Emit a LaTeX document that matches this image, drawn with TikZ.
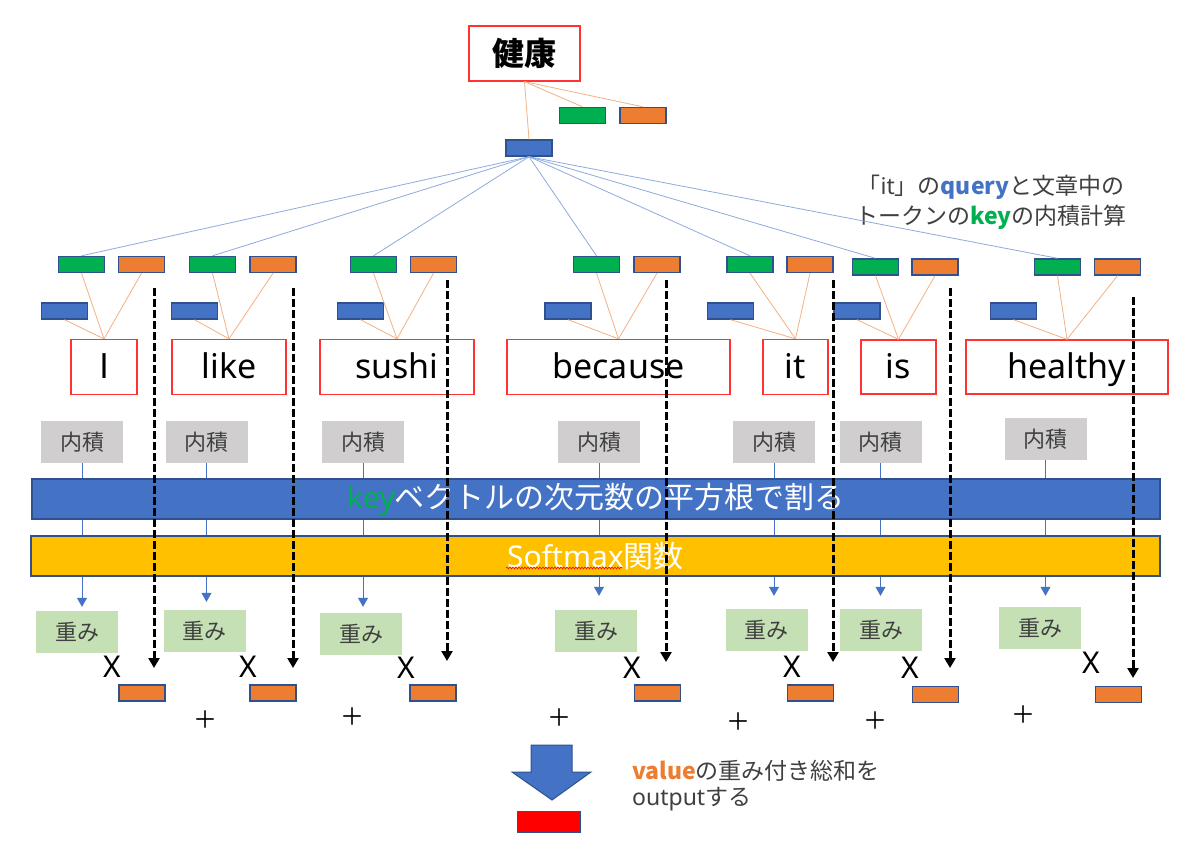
\documentclass[tikz,border=0pt]{standalone}
\usepackage{fontspec}
\setmainfont{Noto Sans}
\newfontfamily\jp{Noto Sans CJK JP}
\usetikzlibrary{arrows.meta,decorations.pathmorphing}
\definecolor{qblue}{HTML}{4472C4}
\definecolor{bord}{HTML}{2F528F}
\definecolor{kgreen}{HTML}{00B050}
\definecolor{vorange}{HTML}{ED7D31}
\definecolor{lorange}{HTML}{F4B183}
\definecolor{lblue}{HTML}{8FAADC}
\definecolor{gbox}{HTML}{D0CECE}
\definecolor{wbox}{HTML}{C5E0B4}
\definecolor{ybar}{HTML}{FFC000}
\definecolor{tgray}{HTML}{404040}
\definecolor{wred}{HTML}{FF3333}
\newcommand{\fsz}[2]{\fontsize{#1}{#2}\selectfont}
\begin{document}
\begin{tikzpicture}[x=1pt,y=-1pt,
  vec/.style={draw=bord, line width=1.4pt, minimum width=46pt, minimum height=16pt, inner sep=0pt},
  kvec/.style={vec, fill=kgreen},
  vvec/.style={vec, fill=vorange},
  qvec/.style={vec, fill=qblue},
  word/.style={draw=wred, line width=1.3pt, fill=white, minimum height=55pt, inner sep=0pt, text height=26pt, text depth=4pt, font=\fsz{34}{34}},
  dotbox/.style={fill=gbox, minimum width=82pt, minimum height=42pt, inner sep=0pt, font=\jp\fsz{22}{22}, text=tgray},
  wtbox/.style={fill=wbox, minimum width=82pt, minimum height=42pt, inner sep=0pt, font=\jp\fsz{22}{22}, text=tgray},
  oline/.style={draw=lorange, line width=0.8pt},
  bline/.style={draw=lblue, line width=0.8pt},
  flow/.style={draw=qblue, line width=0.6pt, -{Triangle[width=10pt,length=9pt]}},
  dasharrow/.style={draw=black, line width=3pt, dash pattern=on 8pt off 3pt, -{Triangle[width=11pt,length=10pt]}},
  xlab/.style={font=\fsz{30}{30}, inner sep=0pt},
  plab/.style={font=\jp\fsz{24}{24}, inner sep=0pt}
]
\useasboundingbox[fill=white] (0,0) rectangle (1200,848);

% top token
\node[draw=wred, line width=1.3pt, fill=white, minimum width=111pt, minimum height=55pt, inner sep=0pt, font=\jp\bfseries\fsz{32}{32}] (top) at (524.5,53.5) {健康};
\node[kvec] (tg) at (582.5,115.5) {};
\node[vvec] (to) at (643,115.5) {};
\node[qvec] (tq) at (529,148) {};
\draw[oline] (top.south) -- (tq.north);
\draw[oline] (top.south) -- (tg.north);
\draw[oline] (top.south) -- (to.north);

% annotation
\node[align=center, text=tgray, font=\fsz{23}{30}, inner sep=0pt] (note) at (991,202)
  {{\jp 「}it{\jp 」の}{\jp\bfseries\color{qblue}query}{\jp と文章中の}\\{\jp トークンの}{\jp\bfseries\color{kgreen}key}{\jp の内積計算}};

% key / value / query vectors
\foreach \i/\gx/\ox/\qx/\ky in {1/81.5/141.5/64.5/264.5, 2/212.5/273/194.5/264.5, 3/373.5/433.5/360.5/264.5,
  4/596.5/657/568/264.5, 5/750/810/730.5/264.5, 6/875.5/935/857/267, 7/1057.5/1117.5/1013.5/267}{
  \node[kvec] (g\i) at (\gx,\ky) {};
  \node[vvec] (o\i) at (\ox,\ky) {};
  \node[qvec] (q\i) at (\qx,311) {};
}

% words
\node[word, minimum width=66pt, font=\jp\fsz{34}{34}] (w1) at (104,367) {I};
\node[word, minimum width=114pt] (w2) at (229,367) {like};
\node[word, minimum width=154pt] (w3) at (397,367) {sushi};
\node[word, minimum width=223pt] (w4) at (618.5,367) {because};
\node[word, minimum width=65pt] (w5) at (795.5,367) {it};
\node[word, minimum width=75pt, minimum height=54pt] (w6) at (898.5,367) {is};
\node[word, minimum width=202pt, minimum height=54pt] (w7) at (1067,367) {healthy};

\foreach \i in {1,...,7}{
  \draw[bline] (tq.south) -- (g\i.north);
  \draw[oline] (w\i.north) -- (g\i.south);
  \draw[oline] (w\i.north) -- (o\i.south);
  \draw[oline] (w\i.north) -- (q\i.south);
}

% inner products and weights
\foreach \i/\nx/\ny/\mx/\my in {1/82/442/77/632, 2/206.5/442/204.5/631, 3/363/442/361/634,
  4/599/442/596/631, 5/774/442/766.5/630, 6/880.5/442/881/630, 7/1045.5/439/1040/628}{
  \node[dotbox] (n\i) at (\nx,\ny) {内積};
  \node[wtbox] (m\i) at (\mx,\my) {重み};
}
\foreach \i/\s in {1/4,2/8,3/6,4/14,5/13,6/13,7/11}{
  \draw[flow, shorten >=\s pt] (n\i.south) -- (n\i.south |- m\i.north);
}

% bars
\node[draw=bord, line width=1.3pt, fill=qblue, minimum width=1128pt, minimum height=40pt, inner sep=0pt, text=white, font=\fsz{30}{30}] (scale) at (596,499)
  {{\color{kgreen}key}{\jp ベクトルの次元数の平方根で割る}};
\node[draw=bord, line width=1.3pt, fill=ybar, minimum width=1129pt, minimum height=40pt, inner sep=0pt, text=white, font=\fsz{30}{30}] (soft) at (595.5,556)
  {Softmax{\jp 関数}};
\draw[red, line width=0.6pt, decorate, decoration={snake, amplitude=0.9pt, segment length=3pt}] (506,568) -- (622,568);

% dashed value arrows
\foreach \i/\dx/\ds/\de in {1/154/288/668, 2/293/288/668, 3/447/280/661, 4/666/280/662,
  5/833/280/662, 6/950/288/668, 7/1133/297/678}{
  \coordinate (ds\i) at (\dx,\ds);
  \coordinate (de\i) at (\dx,\de);
  \draw[dasharrow] (ds\i) -- (de\i);
}

% multiply and value vectors
\foreach \i/\xx/\xy/\vx/\vy in {1/112/667/142/693, 2/248/667/273/693, 3/406/668/433/693,
  4/632/668/657.5/693, 5/792/667/810.5/693, 6/910/668/935.5/694.5, 7/1091/663/1118.5/694.5}{
  \node[xlab] (x\i) at (\xx,\xy) {X};
  \node[vvec] (v\i) at (\vx,\vy) {};
}
\foreach \i/\px/\py in {1/205/720, 2/352/717, 3/559/718, 4/738/722, 5/875/721, 6/1023/715}{
  \node[plab] (p\i) at (\px,\py) {＋};
}

% output
\draw[fill=qblue, draw=bord, line width=1pt] (531,745) -- (572,745) -- (572,772) -- (591,772) -- (552,800) -- (512,772) -- (531,772) -- cycle;
\node[fill=red, draw=bord, line width=1pt, minimum width=63pt, minimum height=21pt, inner sep=0pt] (out) at (549,822) {};
\node[anchor=west, align=left, text=tgray, font=\fsz{23}{26}, inner sep=0pt] (otext) at (632,786)
  {{\jp\bfseries\color{vorange}value}{\jp の重み付き総和を}\\output{\jp する}};
\end{tikzpicture}
\end{document}
